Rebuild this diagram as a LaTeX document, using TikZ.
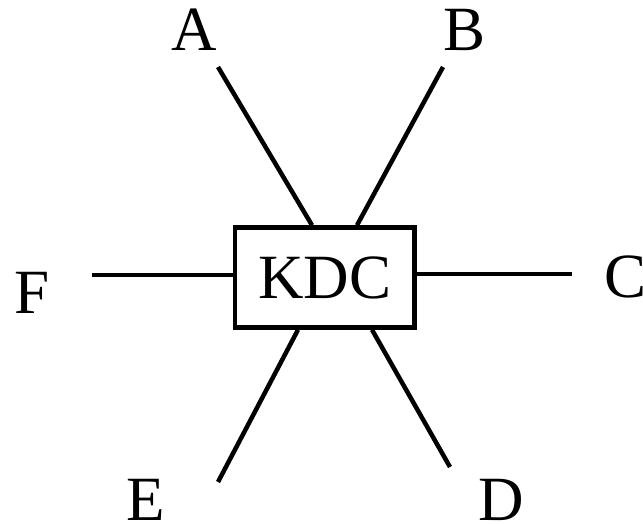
\documentclass[tikz,border=0pt]{standalone}
\usepackage{fontspec}
\setmainfont{Liberation Serif}
\begin{document}
\begin{tikzpicture}[x=1pt, y=-1pt, line width=4.5pt]
            \tikzset{
                letter/.style={inner sep=0pt, font=\fontsize{63}{63}\selectfont},
                centre/.style={draw, letter, minimum width=179.5pt, minimum height=100pt}
            };
            \useasboundingbox (0, 0) rectangle (643, 525);
            \node[centre] (kdc) at (324.75, 277.5) {KDC};
            \node[letter] (A) at (194.5, 30) {A};
            \node[letter] (B) at (465, 30) {B};
            \node[letter] (C) at (626, 277) {C};
            \node[letter] (D) at (501, 499.5) {D};
            \node[letter] (E) at (145.5, 499.5) {E};
            \node[letter] (F) at (32.5, 292.5) {F};
            \coordinate (a) at (218, 67);
            \coordinate (b) at (443, 67);
            \coordinate (c) at (572, 274);
            \coordinate (d) at (450, 467);
            \coordinate (e) at (218, 482);
            \coordinate (f) at (92, 275);
            \draw (a) -- ([xshift=-12.75pt]kdc.north);
            \draw (b) -- ([xshift=32.25pt]kdc.north);
            \draw (c) -- (c -| kdc.east);
            \draw (d) -- ([xshift=47.25pt]kdc.south);
            \draw (e) -- ([xshift=-26.75pt]kdc.south);
            \draw (f) -- (f -| kdc.west);
        \end{tikzpicture}
\end{document}
